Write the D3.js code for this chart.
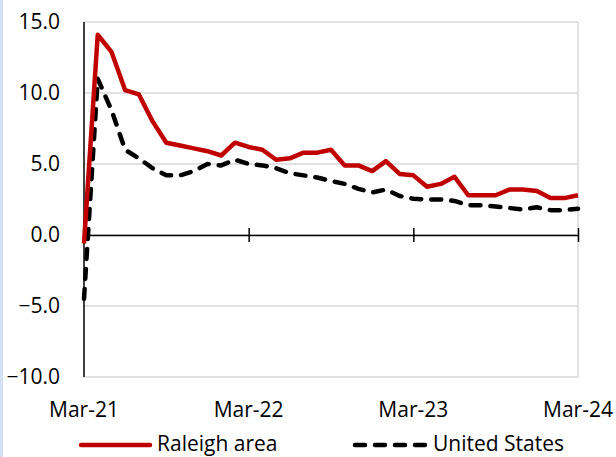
<!DOCTYPE html>
<html>
<head>
<meta charset="utf-8">
<script src="https://cdn.jsdelivr.net/npm/d3@7"></script>
<style>
  html, body { margin: 0; padding: 0; background: #fff; }
  svg { display: block; }
  text { font-family: "Open Sans", "Noto Sans", sans-serif; fill: #000; }
</style>
</head>
<body>
<svg id="chart" width="616" height="457"></svg>
<script>
// ---- Data ----
const months = [
  "Mar-21","Apr-21","May-21","Jun-21","Jul-21","Aug-21","Sep-21","Oct-21","Nov-21","Dec-21","Jan-22","Feb-22",
  "Mar-22","Apr-22","May-22","Jun-22","Jul-22","Aug-22","Sep-22","Oct-22","Nov-22","Dec-22","Jan-23","Feb-23",
  "Mar-23","Apr-23","May-23","Jun-23","Jul-23","Aug-23","Sep-23","Oct-23","Nov-23","Dec-23","Jan-24","Feb-24",
  "Mar-24"
];
const raleigh = [
  -0.6, 14.1, 12.9, 10.2, 9.9, 8.0, 6.5, 6.3, 6.1, 5.9, 5.6, 6.5,
  6.2, 6.0, 5.3, 5.4, 5.8, 5.8, 6.0, 4.9, 4.9, 4.5, 5.2, 4.3,
  4.2, 3.4, 3.6, 4.1, 2.8, 2.8, 2.8, 3.2, 3.2, 3.1, 2.6, 2.6,
  2.8
];
const unitedStates = [
  -4.5, 11.0, 8.8, 6.0, 5.4, 4.7, 4.2, 4.2, 4.5, 5.0, 4.9, 5.3,
  5.0, 4.9, 4.7, 4.35, 4.2, 4.05, 3.8, 3.6, 3.25, 3.0, 3.2, 2.75,
  2.55, 2.5, 2.5, 2.4, 2.1, 2.1, 2.0, 1.9, 1.8, 1.95, 1.75, 1.75,
  1.85
];
const xTickLabels = ["Mar-21","Mar-22","Mar-23","Mar-24"];
const yTicks = [-10, -5, 0, 5, 10, 15];
const seriesNames = ["Raleigh area", "United States"];

(function () {
// ---- Layout ----
const svg = d3.select("#chart");
const pLeft = 84, pRight = 578, pTop = 22, pBottom = 377;

// light blue left edge
svg.append("rect").attr("x", 0).attr("y", 0).attr("width", 3).attr("height", 457).attr("fill", "#d3e0f3");

const x = d3.scalePoint().domain(months).range([pLeft, pRight]);
const y = d3.scaleLinear().domain([-10, 15]).range([pBottom, pTop]);

// gridlines
svg.append("g")
  .selectAll("line").data(yTicks).join("line")
  .attr("x1", pLeft).attr("x2", pRight)
  .attr("y1", d => y(d)).attr("y2", d => y(d))
  .attr("stroke", "#d9d9d9").attr("stroke-width", 1.5);

// right frame
svg.append("line").attr("x1", pRight).attr("x2", pRight).attr("y1", pTop).attr("y2", pBottom)
  .attr("stroke", "#d9d9d9").attr("stroke-width", 1.5);

// y axis labels
const yAxis = d3.axisLeft(y).tickValues(yTicks).tickSize(0).tickPadding(0).tickFormat(d3.format(".1f"));
const yg = svg.append("g").attr("transform", `translate(${pLeft - 24},0)`).call(yAxis);
yg.select(".domain").remove();
yg.selectAll("text").attr("font-size", 21).attr("fill", "#000")
  .style("font-family", "'Open Sans', sans-serif");

// y axis line
svg.append("line").attr("x1", pLeft).attr("x2", pLeft).attr("y1", pTop).attr("y2", pBottom)
  .attr("stroke", "#000").attr("stroke-width", 1.5);

// x axis at zero with crossing ticks
const xAxis = d3.axisBottom(x).tickValues(xTickLabels).tickSize(7).tickSizeOuter(0).tickFormat("");
const xg = svg.append("g").attr("transform", `translate(0,${y(0)})`).call(xAxis);
xg.select(".domain").attr("stroke", "#000").attr("stroke-width", 1.5);
xg.selectAll(".tick line").attr("y1", -7).attr("y2", 7).attr("stroke", "#000").attr("stroke-width", 1.5);

// x labels at bottom
svg.append("g").selectAll("text").data(xTickLabels).join("text")
  .attr("x", d => x(d)).attr("y", 417)
  .attr("text-anchor", "middle").attr("font-size", 21)
  .text(d => d);

// lines
const line = d3.line().x((d, i) => x(months[i])).y(d => y(d));

svg.append("path").datum(unitedStates)
  .attr("d", line).attr("fill", "none")
  .attr("stroke", "#000").attr("stroke-width", 4.5)
  .attr("stroke-dasharray", "10,10").attr("stroke-linecap", "round").attr("stroke-linejoin", "round");

svg.append("path").datum(raleigh)
  .attr("d", line).attr("fill", "none")
  .attr("stroke", "#c00000").attr("stroke-width", 4.5)
  .attr("stroke-linejoin", "round");

// legend
const lg = svg.append("g");
lg.append("line").attr("x1", 81).attr("x2", 150).attr("y1", 445).attr("y2", 445)
  .attr("stroke", "#c00000").attr("stroke-width", 4.5).attr("stroke-linecap", "round");
lg.append("text").attr("x", 157).attr("y", 451).attr("font-size", 21).text(seriesNames[0]);
lg.append("line").attr("x1", 355).attr("x2", 426).attr("y1", 445).attr("y2", 445)
  .attr("stroke", "#000").attr("stroke-width", 4.5).attr("stroke-linecap", "round")
  .attr("stroke-dasharray", "10,10");
lg.append("text").attr("x", 433).attr("y", 451).attr("font-size", 21).text(seriesNames[1]);
})();
</script>
</body>
</html>
